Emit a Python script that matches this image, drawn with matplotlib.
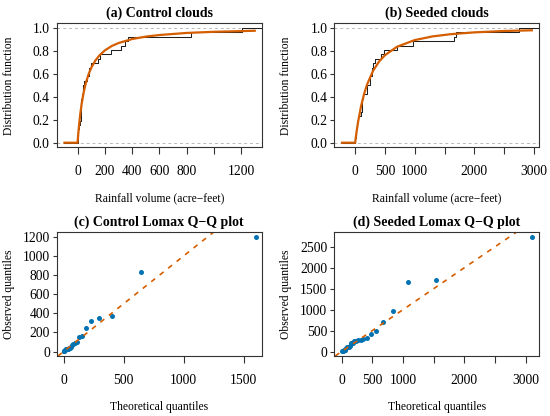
import numpy as np
import matplotlib
matplotlib.use("Agg")
import matplotlib.pyplot as plt

plt.rcParams['font.family'] = ['Liberation Serif', 'DejaVu Serif']

# rainfall (acre-feet), cloud seeding experiment
control = [1202.6, 830.1, 372.4, 345.5, 321.2, 244.3, 163.0, 147.8, 95.0, 87.0,
           81.2, 68.5, 47.3, 41.1, 36.6, 29.0, 28.6, 26.3, 26.1, 24.4,
           21.7, 17.3, 11.5, 4.9, 4.9, 1.0]
seeded = [2745.6, 1697.8, 1656.0, 978.0, 703.4, 489.1, 430.0, 334.1, 302.8, 274.7,
          274.7, 255.0, 242.5, 200.7, 198.6, 129.6, 119.0, 118.3, 115.3, 92.4,
          40.6, 32.7, 31.4, 17.5, 7.7, 4.1]

# fitted Lomax cdf
ctrl_cdf_x = [-96, 0, 5, 10, 20, 30, 45, 60, 80, 100, 130, 160, 200, 250, 300,
              400, 500, 600, 800, 1000, 1299]
ctrl_cdf_y = [0, 0, 0.076, 0.142, 0.252, 0.339, 0.440, 0.517, 0.594, 0.652, 0.715,
              0.760, 0.804, 0.842, 0.868, 0.903, 0.924, 0.938, 0.956, 0.966, 0.975]
seed_cdf_x = [-220, 0, 10, 25, 50, 100, 150, 200, 300, 400, 500, 700, 1000, 1300,
              1600, 2000, 2500, 2965]
seed_cdf_y = [0, 0, 0.042, 0.099, 0.184, 0.321, 0.425, 0.507, 0.626, 0.706, 0.762,
              0.835, 0.894, 0.926, 0.945, 0.961, 0.973, 0.979]

# theoretical Lomax quantiles (x of the Q-Q points), ascending
ctrl_theo = [1.2, 3.8, 6.5, 9.5, 12.7, 16.1, 19.9, 24.1, 28.6, 33.7, 39.3, 45.6,
             52.7, 60.8, 70.2, 81.1, 94.0, 109.6, 128.8, 153.1, 185.2, 229.5,
             295.6, 406.7, 641.2, 1599]
seed_theo = [4.6, 14.1, 24.2, 35.0, 46.6, 59.0, 72.4, 86.9, 102.6, 119.8, 138.7,
             159.4, 182.5, 208.3, 237.6, 270.9, 309.5, 354.8, 409.3, 475.9, 560.4,
             672.1, 829.8, 1076.4, 1545, 3101]

titles = ["(a) Control clouds", "(b) Seeded clouds",
          "(c) Control Lomax Q\u2212Q plot", "(d) Seeded Lomax Q\u2212Q plot"]

ORANGE = "#D55E00"
BLUE = "#0072B2"

W, H = 550, 416
fig = plt.figure(figsize=(W / 100, H / 100), dpi=100)


def box(left, top, w=205, h=124):
    return fig.add_axes([left / W, 1 - (top + h) / H, w / W, h / H])


def style(ax, title, xlab, ylab):
    for s in ax.spines.values():
        s.set_color("0.2")
        s.set_linewidth(0.8)
    ax.tick_params(axis="x", length=4.8, width=0.8, color="0.2", pad=8.2, labelsize=9.8)
    ax.tick_params(axis="y", length=3, width=0.8, color="0.2", pad=2, labelsize=9.8)
    ax.set_title(title, fontsize=10, fontweight="bold", pad=4.5)
    ax.set_xlabel(xlab, fontsize=8.4)
    ax.set_ylabel(ylab, fontsize=8.4)
    ax.xaxis.set_label_coords(0.5, -0.36)
    ax.yaxis.set_label_coords(-0.205, 0.5)


def ecdf_panel(ax, data, cx, cy, left, xlim, ticks, labels, title):
    d = np.sort(data)
    n = len(d)
    xs = np.concatenate([[left], d, [xlim[1]]])
    ys = np.concatenate([[0], np.arange(1, n + 1) / n, [1]])
    ax.axhline(0, color="0.72", lw=0.7, ls=(0, (3, 3)))
    ax.axhline(1, color="0.72", lw=0.7, ls=(0, (3, 3)))
    ax.step(xs, ys, where="post", color="0.12", lw=0.75)
    ax.plot(cx, cy, color=ORANGE, lw=1.6)
    ax.set_xlim(*xlim)
    ax.set_ylim(-0.04, 1.04)
    ax.set_xticks(ticks)
    ax.set_xticklabels(labels)
    ax.set_yticks([0, 0.2, 0.4, 0.6, 0.8, 1.0])
    ax.set_yticklabels(["0.0", "0.2", "0.4", "0.6", "0.8", "1.0"])
    style(ax, title, "Rainfall volume (acre\u2212feet)", "Distribution function")


def qq_panel(ax, theo, data, xlim, ylim, xticks, xlabels, yticks, title):
    ax.plot(theo, np.sort(data), "o", color=BLUE, ms=3.6, mec="none")
    ax.axline((0, 0), slope=1, color=ORANGE, lw=1.2, ls=(0, (3, 3.5)))
    ax.set_xlim(*xlim)
    ax.set_ylim(*ylim)
    ax.set_xticks(xticks)
    ax.set_xticklabels(xlabels)
    ax.set_yticks(yticks)
    style(ax, title, "Theoretical quantiles", "Observed quantiles")


ax1 = box(56.7, 23.3)
ecdf_panel(ax1, control, ctrl_cdf_x, ctrl_cdf_y, -96, (-153, 1350),
           [0, 200, 400, 600, 800, 1000, 1200],
           ["0", "200", "400", "600", "800", "", "1200"], titles[0])

ax2 = box(334.3, 23.3)
ecdf_panel(ax2, seeded, seed_cdf_x, seed_cdf_y, -220, (-350, 3090),
           [0, 500, 1000, 1500, 2000, 2500, 3000],
           ["0", "500", "1000", "", "2000", "", "3000"], titles[1])

ax3 = box(56.7, 232)
qq_panel(ax3, ctrl_theo, control, (-58, 1650), (-47, 1250),
         [0, 500, 1000, 1500], ["0", "500", "1000", "1500"],
         [0, 200, 400, 600, 800, 1000, 1200], titles[2])

ax4 = box(334.3, 232)
qq_panel(ax4, seed_theo, seeded, (-120, 3225), (-106, 2855),
         [0, 500, 1000, 1500, 2000, 2500, 3000],
         ["0", "500", "1000", "", "2000", "", "3000"],
         [0, 500, 1000, 1500, 2000, 2500], titles[3])

fig.savefig("out.png", dpi=100)
